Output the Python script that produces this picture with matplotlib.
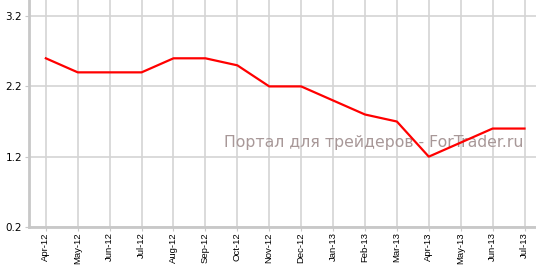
import matplotlib
matplotlib.use('Agg')
from matplotlib import pyplot as plt


MONTHS = ['Apr-12', 'May-12', 'Jun-12', 'Jul-12', 'Aug-12', 'Sep-12', 'Oct-12', 'Nov-12',
          'Dec-12', 'Jan-13', 'Feb-13', 'Mar-13', 'Apr-13', 'May-13', 'Jun-13', 'Jul-13']
VALUES = [2.6, 2.4, 2.4, 2.4, 2.6, 2.6, 2.5, 2.2,
          2.2, 2.0, 1.8, 1.7, 1.2, 1.4, 1.6, 1.6]
Y_TICKS = [0.2, 1.2, 2.2, 3.2]


fig = plt.figure(figsize=(5.36, 2.66), dpi=100)
ax = fig.add_axes([0.054, 0.147, 0.946, 0.853])

x = list(range(len(MONTHS)))
ax.plot(x, VALUES, color='#ff0000', linewidth=1.6, zorder=3)

ax.set_xlim(-0.53, 15.36)
ax.set_ylim(0.2, 3.43)
ax.set_xticks(x)
ax.set_xticklabels(MONTHS, rotation=90, fontsize=6.8, family='Liberation Sans')
ax.set_yticks(Y_TICKS)
ax.set_yticklabels([str(v) for v in Y_TICKS], fontsize=7.5)

ax.grid(True, color='#d4d4d4', linewidth=1.2)
ax.set_axisbelow(True)
for side in ['top', 'right']:
    ax.spines[side].set_visible(False)
for side in ['left', 'bottom']:
    ax.spines[side].set_color('#c8c8c8')
    ax.spines[side].set_linewidth(2)
ax.tick_params(axis='y', length=3, color='#c8c8c8', pad=2)
ax.tick_params(axis='x', length=3, color='#c8c8c8', pad=1)

# watermark
ax.text(0.975, 0.37, 'Портал для трейдеров - ForTrader.ru', transform=ax.transAxes,
        ha='right', va='center', fontsize=11.3, color='#a89898', zorder=2)

fig.savefig('out.png', dpi=100)
